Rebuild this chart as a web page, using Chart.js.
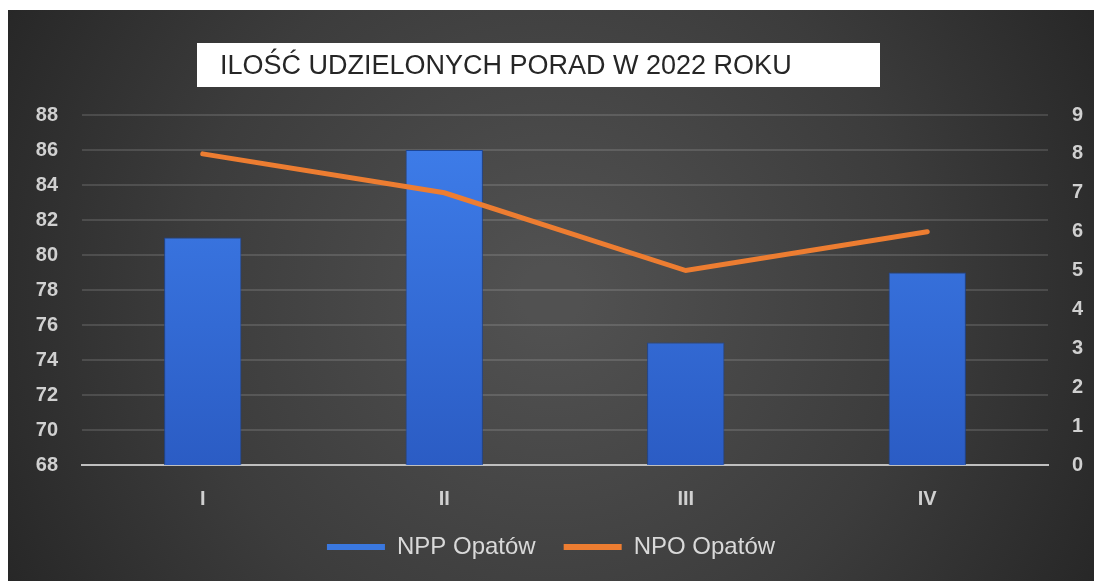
<!DOCTYPE html>
<html>
<head>
<meta charset="utf-8">
<script src="https://cdn.jsdelivr.net/npm/chart.js@4/dist/chart.umd.min.js"></script>
<style>
  html, body { margin: 0; padding: 0; background: #fff; }
  #wrap { position: absolute; left: 8px; top: 10px; width: 1086px; height: 571px; }
</style>
</head>
<body>
<div id="wrap"><canvas id="chart"></canvas></div>
<script>
const quarters = ["I", "II", "III", "IV"];
const nppValues = [81, 86, 75, 79];
const npoValues = [8, 7, 5, 6];
const titleText = "ILOŚĆ UDZIELONYCH PORAD W 2022 ROKU";

const tickColor = '#d0d0d0';
const tickFont = { family: 'Liberation Sans', size: 20, weight: 'bold' };

// background gradient and the white title box
const backdrop = {
    id: 'backdrop',
    beforeDraw(chart) {
        const ctx = chart.ctx;
        const w = chart.width, h = chart.height;
        ctx.save();
        const g = ctx.createRadialGradient(w / 2, h / 2, 30, w / 2, h / 2, 640);
        g.addColorStop(0, '#515151');
        g.addColorStop(0.55, '#3c3c3c');
        g.addColorStop(1, '#252525');
        ctx.fillStyle = g;
        ctx.fillRect(0, 0, w, h);

        ctx.fillStyle = '#ffffff';
        ctx.fillRect(189, 33, 683, 44);
        ctx.fillStyle = '#262626';
        ctx.font = '27px "Liberation Sans", sans-serif';
        ctx.textBaseline = 'alphabetic';
        ctx.fillText(titleText, 212, 64, 592);
        ctx.restore();
    }
};

new Chart(
    document.getElementById('chart'),
    {
        type: 'bar',
        data: {
            labels: quarters,
            datasets: [
                {
                    label: 'NPP Opatów',
                    data: nppValues,
                    yAxisID: 'y',
                    order: 2,
                    backgroundColor: function (c) {
                        const area = c.chart.chartArea;
                        if (!area) return '#3a78e0';
                        const g = c.chart.ctx.createLinearGradient(0, area.top, 0, area.bottom);
                        g.addColorStop(0, '#3f7fec');
                        g.addColorStop(1, '#2b5cc4');
                        return g;
                    },
                    borderColor: '#1d4696',
                    borderWidth: 1,
                    barPercentage: 0.32,
                    categoryPercentage: 1
                },
                {
                    type: 'line',
                    label: 'NPO Opatów',
                    data: npoValues,
                    yAxisID: 'y1',
                    order: 1,
                    borderColor: '#ed7d31',
                    backgroundColor: '#ed7d31',
                    borderWidth: 5,
                    pointRadius: 0,
                    borderCapStyle: 'round',
                    tension: 0
                }
            ]
        },
        options: {
            responsive: true,
            maintainAspectRatio: false,
            animation: false,
            layout: {
                padding: { top: 105, bottom: 12, left: 0, right: 0 }
            },
            plugins: {
                title: { display: false },
                tooltip: { enabled: false },
                legend: {
                    position: 'bottom',
                    labels: {
                        color: '#d9d9d9',
                        font: { family: 'Liberation Sans', size: 24 },
                        boxWidth: 58,
                        boxHeight: 6,
                        padding: 28,
                        generateLabels(chart) {
                            const fills = ['#3a78e0', '#ed7d31'];
                            return chart.data.datasets.map((ds, i) => ({
                                text: ds.label,
                                fillStyle: fills[i],
                                strokeStyle: fills[i],
                                lineWidth: 0,
                                fontColor: '#d9d9d9',
                                hidden: false,
                                datasetIndex: i
                            }));
                        }
                    }
                }
            },
            scales: {
                x: {
                    afterFit(scale) { scale.height = 42; },
                    grid: { display: false, drawTicks: false },
                    border: { display: true, color: '#bfbfbf', width: 2 },
                    ticks: { color: tickColor, font: tickFont, padding: 22 }
                },
                y: {
                    position: 'left',
                    min: 68,
                    max: 88,
                    afterFit(scale) { scale.width = 74; },
                    ticks: { stepSize: 2, color: tickColor, font: tickFont, padding: 24 },
                    grid: {
                        drawTicks: false,
                        lineWidth: 2,
                        color: c => c.tick && c.tick.value === 68 ? 'rgba(0,0,0,0)' : 'rgba(255,255,255,0.13)'
                    },
                    border: { display: false }
                },
                y1: {
                    position: 'right',
                    min: 0,
                    max: 9,
                    afterFit(scale) { scale.width = 46; },
                    ticks: { stepSize: 1, color: tickColor, font: tickFont, padding: 24 },
                    grid: { display: false, drawTicks: false },
                    border: { display: false }
                }
            }
        },
        plugins: [backdrop]
    });
</script>
</body>
</html>
